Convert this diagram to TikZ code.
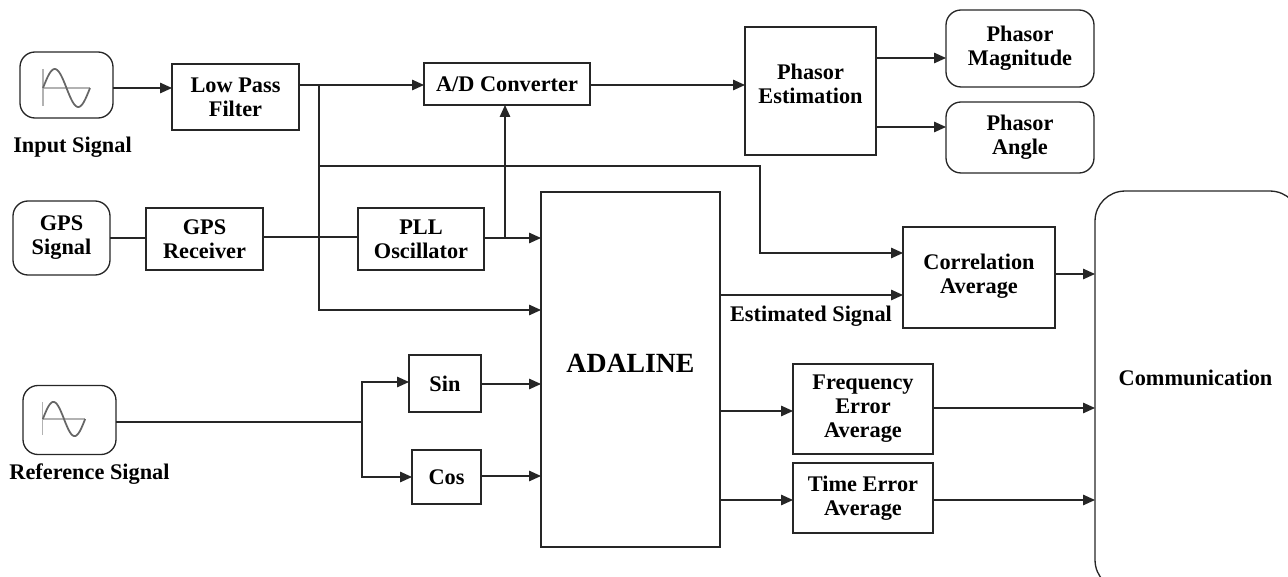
\documentclass[tikz,border=0pt]{standalone}
\usepackage{fontspec}
\setmainfont{Liberation Serif}
\usetikzlibrary{arrows.meta,positioning}

\begin{document}
\begin{tikzpicture}[
    x=0.02cm, y=-0.02cm,
    box/.style={draw=black!85, line width=0.75pt, inner sep=0pt, outer sep=0pt, align=center, font=\fontsize{12.7}{13.7}\selectfont\bfseries},
    rbox/.style={box, rounded corners=0.3cm},
    label/.style={font=\fontsize{12.7}{13.7}\selectfont\bfseries, inner sep=0pt},
    arrow/.style={-{Triangle[length=2.4mm, width=2.1mm]}, line width=0.75pt, black!85},
    wire/.style={line width=0.75pt, draw=black!85},
    sineicon/.pic={
        \draw[black!30, line width=0.6pt] (-23.5,0) -- (23.5,0) (-23.5,-19) -- (-23.5,18);
        \draw[black!60, line width=1pt] plot[domain=-23.5:23.5, samples=40, smooth] (\x, {19*sin(\x*360/47)});
    }
]
\useasboundingbox (0,0) rectangle (1288,577);
\clip (0,0) rectangle (1288,577);

% Input side
\node[rbox, minimum width=1.86cm, minimum height=1.32cm] (input) at (66.5,85) {};
\pic at (66.5,88) {sineicon};
\node[label] (inputlabel) at (72.5,147) {Input Signal};
\node[box, minimum width=2.54cm, minimum height=1.32cm] (lpf) at (235.5,97) {Low Pass\\Filter};
\node[rbox, minimum width=1.94cm, minimum height=1.48cm] (gps) at (61.5,238) {GPS\\Signal};
\node[box, minimum width=2.34cm, minimum height=1.24cm] (receiver) at (204.5,239) {GPS\\Receiver};
\node[box, minimum width=2.52cm, minimum height=1.24cm] (pll) at (421,239) {PLL\\Oscillator};
\node[rbox, minimum width=1.86cm, minimum height=1.38cm] (reference) at (69.5,420) {};
\pic[scale=0.9] at (64,419) {sineicon};
\node[label] (referencelabel) at (89.5,474) {Reference Signal};
\node[box, minimum width=1.44cm, minimum height=1.14cm] (sin) at (445,383.5) {Sin};
\node[box, minimum width=1.38cm, minimum height=1.08cm] (cos) at (446.5,477) {Cos};

% Middle blocks
\node[box, minimum width=3.32cm, minimum height=0.84cm] (adc) at (507,84) {A/D Converter};
\node[box, minimum width=3.58cm, minimum height=7.1cm, font=\fontsize{15.8}{18}\selectfont\bfseries] (adaline) at (630.5,369.5) {ADALINE\\[-0.39cm]};
\node[box, minimum width=2.62cm, minimum height=2.56cm] (phasor) at (810.5,91) {Phasor\\Estimation\\[-0.2cm]};
\node[rbox, minimum width=2.96cm, minimum height=1.54cm] (magnitude) at (1020,48.5) {Phasor\\Magnitude};
\node[rbox, minimum width=2.96cm, minimum height=1.42cm] (angle) at (1020,137.5) {Phasor\\Angle};
\node[box, minimum width=3.04cm, minimum height=2.02cm] (correlation) at (979,277.5) {Correlation\\Average\\[-0.32cm]};
\node[box, minimum width=2.8cm, minimum height=1.8cm] (frequency) at (863,409) {Frequency\\Error\\Average};
\node[box, minimum width=2.8cm, minimum height=1.4cm] (timeerror) at (863,498) {Time Error\\Average};
\node[label] (estimated) at (811,316) {Estimated Signal};

% Output block runs past the edge of the picture
\node[box, rounded corners=0.6cm, minimum width=4.1cm, minimum height=7.98cm] (comm) at (1197.5,390.5) {};
\node[label] (commlabel) at (1195.5,378) {Communication};

% Junctions
\coordinate (split) at (319,85);
\coordinate (pllsplit) at (505,238);
\coordinate (refsplit) at (362,422);
\coordinate (corner) at (760,166);

% Top row
\draw[arrow] (input.east |- 0,88) -- (lpf.west |- 0,88);
\draw[arrow] (lpf.east |- 0,85) -- (adc.west |- 0,85);
\draw[arrow] (adc.east |- 0,85) -- (phasor.west |- 0,85);
\draw[arrow] (phasor.east |- 0,58) -- (magnitude.west |- 0,58);
\draw[arrow] (phasor.east |- 0,127) -- (angle.west |- 0,127);

% Filter output branches
\draw[arrow] (split) |- (adaline.west |- 0,310);
\draw[arrow] (split |- corner) -- (corner) |- (correlation.west |- 0,253);

% GPS row
\draw[wire] (gps.east) -- (receiver.west |- gps.east);
\draw[wire] (receiver.east |- 0,237) -- (pll.west |- 0,237);
\draw[arrow] (pll.east |- pllsplit) -- (adaline.west |- pllsplit);
\draw[arrow] (pllsplit) -- (adc.south -| pllsplit);

% Reference row
\draw[wire] (reference.east |- refsplit) -- (refsplit);
\draw[arrow] (refsplit) |- (sin.west |- 0,382);
\draw[arrow] (refsplit) |- (cos.west);
\draw[arrow] (sin.east |- 0,384) -- (adaline.west |- 0,384);
\draw[arrow] (cos.east |- 0,476) -- (adaline.west |- 0,476);

% ADALINE outputs
\draw[arrow] (adaline.east |- 0,295) -- (correlation.west |- 0,295);
\draw[arrow] (adaline.east |- 0,411) -- (frequency.west |- 0,411);
\draw[arrow] (adaline.east |- 0,500) -- (timeerror.west |- 0,500);

% Into communication
\draw[arrow] (correlation.east |- 0,274) -- (comm.west |- 0,274);
\draw[arrow] (frequency.east |- 0,408) -- (comm.west |- 0,408);
\draw[arrow] (timeerror.east |- 0,500) -- (comm.west |- 0,500);

\end{tikzpicture}
\end{document}
